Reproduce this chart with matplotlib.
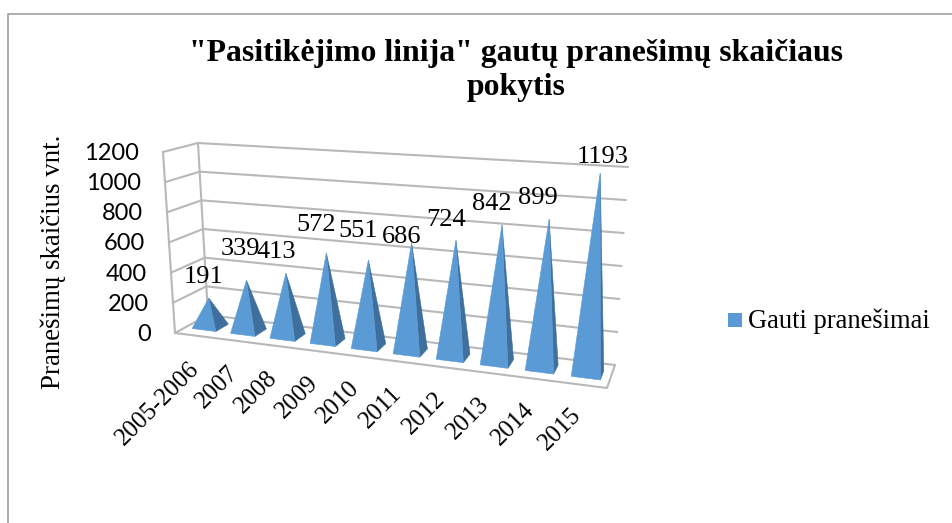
import numpy as np
import matplotlib
matplotlib.use('Agg')
import matplotlib.pyplot as plt
from matplotlib.patches import Polygon, Rectangle

categories = ['2005-2006', '2007', '2008', '2009', '2010', '2011', '2012', '2013', '2014', '2015']
values = [191, 339, 413, 572, 551, 686, 724, 842, 899, 1193]
y_ticks = [0, 200, 400, 600, 800, 1000, 1200]
y_max = 1200
title_lines = ['"Pasitikėjimo linija" gautų pranešimų skaičiaus', 'pokytis']
y_title = 'Pranešimų skaičius vnt.'
legend_label = 'Gauti pranešimai'

# corners of the 3d box on the page, [u][v][h]
box = np.array([[[(175, 333), (163, 152)], [(208, 315), (198, 143)]],
                [[(607, 388), (622, 180)], [(615, 365), (628, 167)]]], dtype=float)
# how far each value label sits from its pyramid tip
label_dx = [-5, -6, -10, -10, -10, -10, -10, -10, -11, 2]
label_dy = [-21, -31, -21, -28, -29, -6, -20, -21, -21, -16]
FRONT = '#5b9bd5'
SIDE = '#3f6f9c'
GRID = '#b8b8b8'
SERIF = 'Liberation Serif'
SANS = 'Lato'


def project(u, v, h):
    # slight perspective along the long side
    u = u / (u + 1.12 * (1 - u))
    p = 0
    for i, a in enumerate((1 - u, u)):
        for j, b in enumerate((1 - v, v)):
            for k, c in enumerate((1 - h, h)):
                p = p + a * b * c * box[i, j, k]
    return p


plt.rcParams['font.family'] = [SERIF, 'DejaVu Serif']
fig = plt.figure(figsize=(9.53, 5.23), dpi=100)
ax = fig.add_axes([0, 0, 1, 1])
ax.set_xlim(0, 953)
ax.set_ylim(523, 0)
ax.axis('off')

# frame of the chart
ax.plot([8.5, 8.5, 953], [523, 13.5, 13.5], color='#a6a6a6', lw=1.3)

# walls and floor
for t in y_ticks:
    h = t / y_max
    pts = [project(0, 0, h), project(0, 1, h), project(1, 1, h)]
    ax.plot(*zip(*pts), color=GRID, lw=1.5, solid_capstyle='round')
    ax.text(project(0, 0, h)[0] - 24, project(0, 0, h)[1] + 1.5, str(t), ha='right', va='center',
            fontsize=17, family=[SANS])
for u, v in [(0, 0), (0, 1)]:
    ax.plot(*zip(project(u, v, 0), project(u, v, 1)), color=GRID, lw=1.5)
ax.plot(*zip(project(0, 0, 0), project(1, 0, 0), project(1, 1, 0)), color=GRID, lw=1.5)

# pyramids
half_w = 0.031
for i, val in enumerate(values):
    c = (i + 0.5) / len(values)
    h = val / y_max
    tip = project(c, 0.5, h)
    fl = project(c - half_w, 0.3, 0)
    fr = project(c + half_w, 0.3, 0)
    br = project(c + half_w, 0.7, 0)
    ax.add_patch(Polygon([fr, br, tip], closed=True, fc=SIDE, ec=SIDE, lw=0.4, zorder=3))
    ax.add_patch(Polygon([fl, fr, tip], closed=True, fc=FRONT, ec=FRONT, lw=0.4, zorder=4))
    ax.text(tip[0] + label_dx[i], tip[1] + label_dy[i], str(val), ha='center', va='center',
            fontsize=19, zorder=5)

# category labels
for i, cat in enumerate(categories):
    c = (i + 0.5) / len(categories)
    p = project(c, 0, 0)
    ax.text(p[0] - 6 - 0.8 * i, p[1] + 22 - i * 0.3, cat, rotation=45, rotation_mode='anchor', ha='right', va='top',
            fontsize=17.8)

ax.text(516.5, 54, title_lines[0], ha='center', va='center', fontsize=22.9, fontweight='bold')
ax.text(516.5, 88, title_lines[1], ha='center', va='center', fontsize=22.9, fontweight='bold')
ax.text(53, 262, y_title, rotation=90, ha='center', va='center', fontsize=19.4)

# legend
ax.add_patch(Rectangle((728, 313), 14, 14, fc=FRONT, ec='none'))
ax.text(748, 321, legend_label, ha='left', va='center', fontsize=19.1)

fig.savefig('out.png', dpi=100)
